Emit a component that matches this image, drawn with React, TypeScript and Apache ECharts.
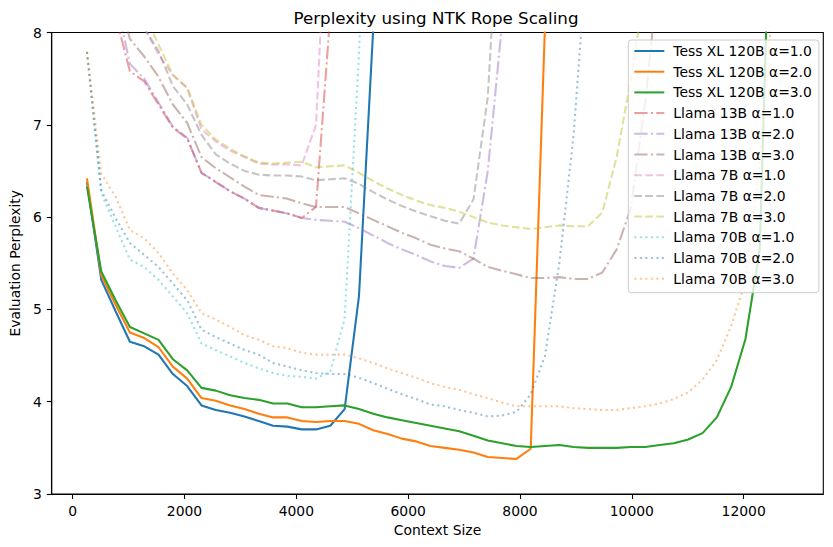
import React, { useEffect, useRef } from "react";
import * as echarts from "echarts";

const contextSizes = [
  256, 512, 768, 1024, 1280, 1536, 1792, 2048, 2304, 2560,
  2816, 3072, 3328, 3584, 3840, 4096, 4352, 4608, 4864, 5120,
  5376, 5632, 5888, 6144, 6400, 6656, 6912, 7168, 7424, 7680,
  7936, 8192, 8448, 8704, 8960, 9216, 9472, 9728, 9984, 10240,
  10496, 10752, 11008, 11264, 11520, 11776, 12032, 12288, 12544, 12800,
];

const xTicks = [0, 2000, 4000, 6000, 8000, 10000, 12000];
const yTicks = [3, 4, 5, 6, 7, 8];

const n = null;

const tess1 = [6.38, 5.32, 4.98, 4.65, 4.6, 4.51, 4.3, 4.17, 3.96, 3.91, 3.88, 3.84, 3.79, 3.74, 3.73, 3.7, 3.7, 3.74, 3.92, 5.14, 8.05, n, n, n, n, n, n, n, n, n, n, n, n, n, n, n, n, n, n, n, n, n, n, n, n, n, n, n, n, n];
const tess2 = [6.42, 5.37, 5.05, 4.75, 4.69, 4.59, 4.38, 4.25, 4.04, 4.01, 3.96, 3.92, 3.87, 3.83, 3.83, 3.79, 3.78, 3.79, 3.79, 3.76, 3.69, 3.65, 3.6, 3.57, 3.52, 3.5, 3.48, 3.45, 3.4, 3.39, 3.38, 3.49, 8.1, n, n, n, n, n, n, n, n, n, n, n, n, n, n, n, n, n];
const tess3 = [6.33, 5.41, 5.1, 4.81, 4.74, 4.67, 4.46, 4.34, 4.15, 4.12, 4.07, 4.04, 4.02, 3.98, 3.98, 3.94, 3.94, 3.95, 3.96, 3.92, 3.87, 3.83, 3.8, 3.77, 3.74, 3.71, 3.68, 3.63, 3.58, 3.55, 3.52, 3.51, 3.52, 3.53, 3.51, 3.5, 3.5, 3.5, 3.51, 3.51, 3.53, 3.55, 3.59, 3.66, 3.83, 4.16, 4.68, 5.65, 11, n];

const l13a1 = [n, n, 8.18, 7.58, 7.47, 7.22, 6.97, 6.85, 6.48, 6.38, 6.28, 6.2, 6.1, 6.07, 6.04, 5.99, 6.11, 8.2, n, n, n, n, n, n, n, n, n, n, n, n, n, n, n, n, n, n, n, n, n, n, n, n, n, n, n, n, n, n, n, n];
const l13a2 = [n, n, 8.38, 7.66, 7.5, 7.24, 6.98, 6.86, 6.48, 6.38, 6.28, 6.2, 6.1, 6.07, 6.04, 5.99, 5.97, 5.96, 5.95, 5.88, 5.8, 5.72, 5.65, 5.59, 5.52, 5.47, 5.45, 5.55, 6.5, 8.1, n, n, n, n, n, n, n, n, n, n, n, n, n, n, n, n, n, n, n, n];
const l13a3 = [n, n, 8.5, 7.93, 7.74, 7.52, 7.22, 7.02, 6.65, 6.53, 6.43, 6.33, 6.24, 6.22, 6.2, 6.15, 6.11, 6.11, 6.11, 6.04, 5.97, 5.9, 5.83, 5.77, 5.7, 5.66, 5.63, 5.55, 5.46, 5.42, 5.38, 5.34, 5.34, 5.35, 5.33, 5.33, 5.4, 5.65, 6.1, 7.25, 8.75, n, n, n, n, n, n, n, n, n];

const l7a1 = [n, n, n, n, 8.05, 7.76, 7.54, 7.4, 6.95, 6.82, 6.72, 6.65, 6.58, 6.57, 6.57, 6.56, 7.0, 10.2, n, n, n, n, n, n, n, n, n, n, n, n, n, n, n, n, n, n, n, n, n, n, n, n, n, n, n, n, n, n, n, n];
const l7a2 = [n, n, n, n, 8.05, 7.8, 7.42, 7.22, 6.89, 6.68, 6.58, 6.5, 6.46, 6.45, 6.45, 6.44, 6.4, 6.41, 6.42, 6.36, 6.27, 6.19, 6.12, 6.06, 6.01, 5.96, 5.93, 6.19, 7.3, 10, n, n, n, n, n, n, n, n, n, n, n, n, n, n, n, n, n, n, n, n];
const l7a3 = [n, n, n, n, 8.2, 7.87, 7.54, 7.4, 7.0, 6.84, 6.74, 6.66, 6.59, 6.58, 6.59, 6.6, 6.54, 6.55, 6.56, 6.48, 6.39, 6.31, 6.24, 6.18, 6.13, 6.1, 6.06, 6.0, 5.94, 5.91, 5.89, 5.87, 5.89, 5.91, 5.9, 5.9, 6.05, 6.65, 7.5, 8.5, n, n, n, n, n, n, n, n, n, n];

const l70a1 = [7.79, 6.26, 5.9, 5.54, 5.46, 5.32, 5.14, 4.96, 4.63, 4.56, 4.49, 4.42, 4.36, 4.31, 4.28, 4.27, 4.25, 4.33, 4.9, 7.75, 12, n, n, n, n, n, n, n, n, n, n, n, n, n, n, n, n, n, n, n, n, n, n, n, n, n, n, n, n, n];
const l70a2 = [7.79, 6.29, 5.99, 5.72, 5.59, 5.46, 5.28, 5.1, 4.78, 4.7, 4.63, 4.56, 4.51, 4.42, 4.38, 4.34, 4.31, 4.3, 4.3, 4.26, 4.2, 4.14, 4.08, 4.03, 3.97, 3.95, 3.91, 3.88, 3.84, 3.85, 3.89, 4.08, 4.5, 5.5, 6.9, 9.0, n, n, n, n, n, n, n, n, n, n, n, n, n, n];
const l70a3 = [7.79, 6.47, 6.22, 5.86, 5.77, 5.61, 5.39, 5.21, 4.96, 4.89, 4.81, 4.72, 4.67, 4.6, 4.58, 4.53, 4.51, 4.51, 4.51, 4.47, 4.42, 4.36, 4.31, 4.26, 4.2, 4.16, 4.13, 4.08, 4.04, 3.99, 3.95, 3.95, 3.95, 3.95, 3.93, 3.92, 3.91, 3.91, 3.93, 3.95, 3.98, 4.03, 4.1, 4.24, 4.45, 4.82, 5.3, 6.6, 8.5, n];

const seriesNames = [
  "Tess XL 120B α=1.0", "Tess XL 120B α=2.0", "Tess XL 120B α=3.0",
  "Llama 13B α=1.0", "Llama 13B α=2.0", "Llama 13B α=3.0",
  "Llama 7B α=1.0", "Llama 7B α=2.0", "Llama 7B α=3.0",
  "Llama 70B α=1.0", "Llama 70B α=2.0", "Llama 70B α=3.0",
];
const seriesValues = [tess1, tess2, tess3, l13a1, l13a2, l13a3, l7a1, l7a2, l7a3, l70a1, l70a2, l70a3];
const seriesColors = [
  "#1f77b4", "#ff7f0e", "#2ca02c",
  "#d62728", "#9467bd", "#8c564b",
  "#e377c2", "#7f7f7f", "#bcbd22",
  "#17becf", "#1f77b4", "#ff7f0e",
];

const LW = 2.08;
const dashDot = [13.3, 3.3, 2.1, 3.3];
const dashed = [7.7, 3.3];
const dotted = [2.08, 3.44];

const FONT = "DejaVu Sans";

export default function App() {
  const ref = useRef<HTMLDivElement>(null);

  useEffect(() => {
    if (!ref.current) return;
    const chart = echarts.init(ref.current, null, { renderer: "svg" });

    const series = seriesNames.map((name, i) => {
      const isTess = i < 3;
      let type: any = "solid";
      if (i >= 3 && i < 6) type = dashDot;
      else if (i >= 6 && i < 9) type = dashed;
      else if (i >= 9) type = dotted;
      return {
        name,
        type: "line",
        data: contextSizes.map((x, j) => [x, seriesValues[i][j]]),
        showSymbol: false,
        symbol: "none",
        connectNulls: false,
        clip: true,
        color: seriesColors[i],
        lineStyle: {
          color: seriesColors[i],
          width: LW,
          type,
          opacity: isTess ? 1 : 0.45,
          cap: "butt",
        },
        emphasis: { disabled: true },
        z: 2,
      };
    });

    chart.setOption({
      animation: false,
      textStyle: { fontFamily: FONT },
      grid: {
        left: 48.3,
        right: 9.7,
        top: 32.5,
        bottom: 53,
        show: true,
        borderColor: "#000",
        borderWidth: 1.1,
        backgroundColor: "transparent",
      },
      graphic: [
        {
          type: "text",
          x: 436,
          y: 18,
          style: {
            text: "Perplexity using NTK Rope Scaling",
            fontFamily: FONT,
            fontSize: 16.7,
            fill: "#000",
            textAlign: "center",
            textVerticalAlign: "middle",
          },
        },
      ],
      legend: {
        orient: "vertical",
        left: 628.3,
        top: 40,
        itemWidth: 30,
        itemHeight: 14,
        itemGap: 6.7,
        padding: [4, 7, 7, 5],
        backgroundColor: "rgba(255,255,255,0.8)",
        borderColor: "#cccccc",
        borderWidth: 1,
        borderRadius: 3,
        itemStyle: { opacity: 0 },
        textStyle: {
          fontFamily: FONT,
          fontSize: 13.9,
          color: "#000",
          padding: [0, 0, 0, 4],
        },
        selectedMode: false,
        data: seriesNames,
      },
      xAxis: {
        type: "value",
        min: -374,
        max: 13424,
        name: "Context Size",
        nameLocation: "middle",
        nameGap: 28,
        nameTextStyle: { fontFamily: FONT, fontSize: 13.9, color: "#000" },
        splitLine: { show: false },
        axisLine: { show: true, onZero: false, lineStyle: { color: "#000", width: 1.1 } },
        axisTick: {
          show: true,
          length: 4.9,
          customValues: xTicks,
          lineStyle: { color: "#000", width: 1.1 },
        },
        axisLabel: {
          customValues: xTicks,
          margin: 10,
          fontFamily: FONT,
          fontSize: 13.9,
          color: "#000",
          formatter: (v: number) => String(v),
        },
      },
      yAxis: {
        type: "value",
        min: 3,
        max: 8,
        interval: 1,
        name: "Evaluation Perplexity",
        nameLocation: "middle",
        nameRotate: 90,
        nameGap: 24,
        nameTextStyle: { fontFamily: FONT, fontSize: 13.9, color: "#000" },
        splitLine: { show: false },
        axisLine: { show: true, onZero: false, lineStyle: { color: "#000", width: 1.1 } },
        axisTick: {
          show: true,
          length: 4.9,
          customValues: yTicks,
          lineStyle: { color: "#000", width: 1.1 },
        },
        axisLabel: {
          customValues: yTicks,
          margin: 10,
          fontFamily: FONT,
          fontSize: 13.9,
          color: "#000",
          formatter: (v: number) => String(v),
        },
      },
      series,
    });

    return () => {
      chart.dispose();
    };
  }, []);

  return (
    <div
      ref={ref}
      style={{ position: "absolute", left: 0, top: 0, width: 833, height: 547, background: "#fff" }}
    />
  );
}
